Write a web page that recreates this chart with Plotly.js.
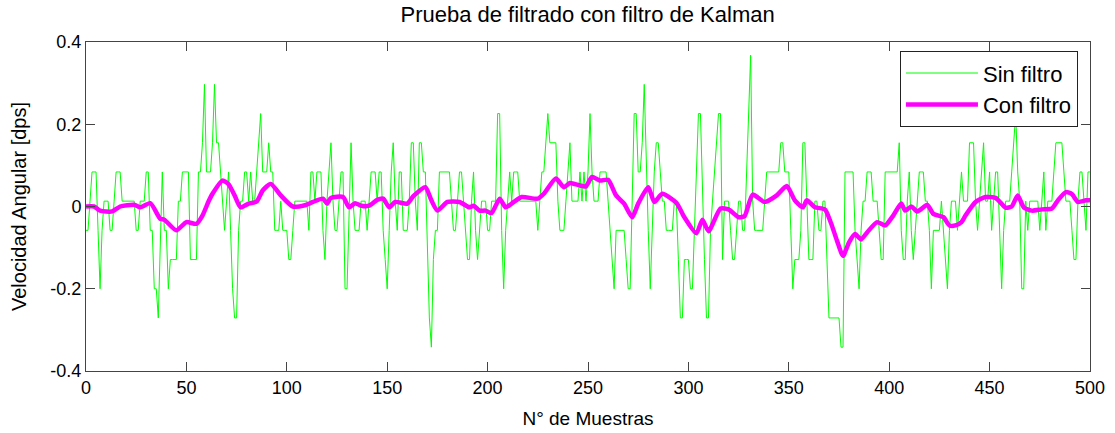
<!DOCTYPE html>
<html>
<head>
<meta charset="utf-8">
<script src="https://cdn.plot.ly/plotly-3.0.1.min.js"></script>
<style>html,body{margin:0;padding:0;background:#fff;}#chart{width:1115px;height:433px;}</style>
</head>
<body>
<div id="chart"></div>
<script>
// Raw gyro readings (Sin filtro), sample index 0..500
const sinFiltro = [
-0.058,-0.058,0.013,0.084,0.084,0.084,-0.058,-0.2,-0.058,0.013,
0.013,0.013,-0.058,-0.058,0.013,0.084,0.084,0.084,0.013,0.013,
0.013,0.013,0.013,0.013,0.013,-0.058,-0.058,0.013,0.013,0.013,
0.084,0.084,-0.058,-0.058,-0.2,-0.2,-0.271,-0.058,0.084,-0.058,
-0.058,-0.2,-0.129,-0.129,-0.129,-0.129,0.013,0.013,0.084,0.084,
0.084,0.084,-0.129,-0.129,-0.129,-0.129,0.084,0.084,0.155,0.297,
0.084,0.084,0.084,0.155,0.297,0.155,0.155,0.084,0.013,-0.058,
0.013,0.084,-0.058,-0.2,-0.271,-0.271,-0.058,0.013,0.013,0.084,
0.084,0.013,0.084,0.013,0.013,0.084,0.155,0.226,0.084,0.084,
0.084,0.155,0.084,0.084,-0.058,-0.058,-0.058,0.013,-0.058,-0.058,
-0.058,-0.129,-0.129,-0.058,0.013,0.013,0.013,0.013,0.013,0.013,
0.013,-0.058,0.084,0.084,0.013,0.084,0.084,0.084,-0.058,-0.129,
0.013,0.084,0.155,0.013,-0.058,-0.058,0.013,0.084,0.084,-0.2,
-0.2,0.013,0.155,0.013,-0.058,-0.058,-0.058,0.013,0.013,0.013,
-0.058,0.013,0.084,0.084,0.084,0.013,0.084,0.084,-0.058,-0.129,
-0.2,-0.058,0.084,0.155,0.013,-0.058,0.084,0.084,-0.058,-0.058,
-0.058,0.013,0.155,0.155,0.013,-0.058,0.155,0.155,0.084,0.084,
-0.129,-0.271,-0.342,-0.129,-0.058,-0.058,0.084,0.084,0.084,0.084,
0.084,0.084,0.013,-0.058,-0.058,0.013,0.084,0.084,0.013,-0.058,
-0.129,-0.129,0.013,0.084,-0.058,-0.129,-0.058,0.013,0.013,0.013,
-0.058,-0.058,0.013,0.013,0.013,0.226,0.226,-0.058,-0.2,-0.058,
0.013,0.084,0.013,0.084,0.084,0.084,0.013,0.013,0.013,0.013,
0.013,0.013,0.013,0.013,0.013,-0.058,0.013,0.084,0.084,0.155,
0.226,0.155,0.155,0.155,0.155,0.013,-0.058,-0.058,-0.058,0.013,
0.084,0.155,0.013,0.013,0.013,0.013,0.084,0.013,0.084,0.013,
0.084,0.226,0.084,0.013,0.013,0.013,0.084,0.084,0.084,0.084,
0.013,-0.058,-0.129,-0.2,-0.058,-0.058,-0.058,-0.058,-0.058,-0.129,
-0.2,-0.2,0.013,0.226,0.226,0.084,0.084,0.155,0.297,0.084,
-0.058,-0.2,-0.058,0.084,0.155,0.155,0.084,0.013,0.013,-0.058,
-0.058,-0.058,-0.058,0.013,0.013,-0.129,-0.271,-0.271,-0.129,-0.129,
-0.129,-0.2,-0.2,-0.058,0.084,0.226,0.226,0.013,-0.129,-0.271,
-0.271,-0.058,0.013,0.084,0.155,0.226,0.226,-0.129,0.013,0.013,
0.013,-0.058,-0.129,-0.129,-0.058,0.013,0.013,-0.058,-0.058,0.084,
0.226,0.368,0.013,-0.058,-0.058,-0.058,-0.058,-0.058,0.013,0.084,
0.084,0.084,0.084,0.084,0.084,0.084,0.155,0.155,0.084,0.084,
0.084,-0.058,-0.2,-0.129,-0.129,-0.129,-0.058,0.155,0.155,0.013,
-0.129,-0.129,-0.129,0.013,0.013,-0.058,-0.058,0.013,0.013,-0.129,
-0.271,-0.271,-0.271,-0.271,-0.271,-0.271,-0.342,-0.342,0.084,0.084,
0.084,0.084,0.084,-0.058,-0.129,-0.2,-0.058,0.013,0.013,0.084,
0.084,0.084,0.013,0.013,0.013,-0.058,-0.129,-0.129,0.084,0.084,
0.084,0.084,0.084,0.084,0.084,0.155,-0.058,-0.129,-0.129,0.013,
0.084,-0.058,-0.129,-0.058,0.013,0.084,0.084,0.084,0.013,0.013,
-0.058,-0.2,-0.058,-0.058,-0.058,-0.058,0.013,-0.058,-0.129,-0.2,
-0.058,0.013,0.013,0.013,-0.058,0.013,0.084,0.013,0.013,0.013,
0.155,0.155,0.155,0.013,-0.058,0.013,0.084,0.155,0.013,0.013,
0.084,-0.058,0.013,0.084,0.084,-0.058,-0.2,-0.058,0.013,0.013,
0.013,0.084,0.155,0.226,0.084,0.013,-0.2,-0.2,0.013,-0.058,
0.013,0.013,0.013,0.013,0.013,-0.058,0.013,0.084,-0.058,0.013,
0.013,0.013,0.084,0.155,0.155,0.155,0.155,0.084,0.013,0.013,
0.013,-0.058,-0.129,-0.129,0.013,0.084,0.084,0.013,-0.058,0.084,
0.084
];
const sinX = sinFiltro.map((v, i) => i);

// Kalman-filtered output (Con filtro), read at selected sample indices
const conX = [0,4,7,13,17,24,27,32,37,39,45,50,55,58,61,63,68,71,74,77,81,85,88,92,97,103,109,113,118,120,122,128,131,134,137,141,145,148,151,154,160,163,169,172,175,180,186,191,193,196,199,202,206,209,213,217,225,228,234,238,241,246,249,252,256,260,264,268,272,275,280,283,287,294,298,304,307,310,316,320,325,328,332,338,344,349,353,357,359,363,368,371,374,377,380,383,386,389,394,398,402,406,408,411,414,419,422,427,430,433,436,438,443,448,453,458,461,464,467,471,476,481,484,488,491,494,498,500];
const conFiltro = [0.0,0.0,-0.01,-0.012,0.0,0.004,-0.002,0.008,-0.03,-0.032,-0.058,-0.038,-0.042,-0.022,0.012,0.031,0.063,0.054,0.027,-0.002,0.007,0.012,0.039,0.055,0.027,0.0,0.003,0.011,0.019,0.007,0.021,0.023,-0.002,0.008,0.002,0.002,0.016,0.019,-0.002,0.011,0.007,0.025,0.047,0.015,-0.01,0.011,0.011,-0.002,0.002,-0.01,-0.01,-0.016,0.019,-0.002,0.011,0.023,0.019,0.031,0.068,0.047,0.057,0.051,0.049,0.072,0.063,0.065,0.027,0.007,-0.026,0.007,0.047,0.011,0.031,0.009,-0.026,-0.065,-0.032,-0.06,-0.005,-0.007,-0.026,-0.023,0.029,0.011,0.027,0.05,0.015,-0.002,0.015,-0.002,-0.007,-0.04,-0.083,-0.12,-0.087,-0.067,-0.08,-0.063,-0.038,-0.046,-0.022,0.007,-0.01,0.0,-0.012,0.004,-0.018,-0.026,-0.046,-0.046,-0.038,-0.022,0.011,0.023,0.021,-0.003,0.0,0.027,-0.002,-0.01,-0.007,-0.005,0.015,0.035,0.03,0.011,0.015,0.015];

const xTicks = [0,50,100,150,200,250,300,350,400,450,500];
const yTicks = [-0.4,-0.2,0,0.2,0.4];
const yTickText = ['-0.4','-0.2','0','0.2','0.4'];

const FONT = 'Liberation Sans, Arial, sans-serif';

const traces = [
  {x: sinX, y: sinFiltro, type: 'scatter', mode: 'lines', name: 'Sin filtro',
   line: {color: '#00ff00', width: 1}},
  {x: conX, y: conFiltro, type: 'scatter', mode: 'lines', name: 'Con filtro',
   line: {color: '#ff00ff', width: 4.5, shape: 'spline', smoothing: 0.6}}
];

const axisCommon = {
  showline: true, linecolor: '#444', linewidth: 1, mirror: 'ticks',
  ticks: 'inside', ticklen: 9, tickcolor: '#444', tickwidth: 1,
  showgrid: false, zeroline: false,
  tickfont: {family: FONT, size: 18, color: '#000'}
};

const layout = {
  width: 1115, height: 433,
  margin: {l: 86, r: 25, t: 42, b: 62},
  paper_bgcolor: '#fff', plot_bgcolor: '#fff',
  font: {family: FONT, color: '#000'},
  title: {text: 'Prueba de filtrado con filtro de Kalman', font: {family: FONT, size: 22, color: '#000'},
          x: 0.527, xanchor: 'center', y: 0.968, yanchor: 'middle'},
  xaxis: Object.assign({}, axisCommon, {
    range: [0, 500], tickvals: xTicks, ticktext: xTicks.map(String),
    title: {text: 'N° de Muestras', font: {family: FONT, size: 19, color: '#000'}, standoff: 15}
  }),
  yaxis: Object.assign({}, axisCommon, {
    range: [-0.4, 0.4], tickvals: yTicks, ticktext: yTickText,
    title: {text: 'Velocidad Angular [dps]', font: {family: FONT, size: 20, color: '#000'}, standoff: 18}
  }),
  showlegend: true,
  legend: {x: 0.988, xanchor: 'right', y: 0.972, yanchor: 'top',
           bgcolor: '#fff', bordercolor: '#222', borderwidth: 1,
           font: {family: FONT, size: 22, color: '#000'},
           itemwidth: 72, tracegroupgap: 0}
};

Plotly.newPlot('chart', traces, layout, {displayModeBar: false, staticPlot: true});
</script>
</body>
</html>
